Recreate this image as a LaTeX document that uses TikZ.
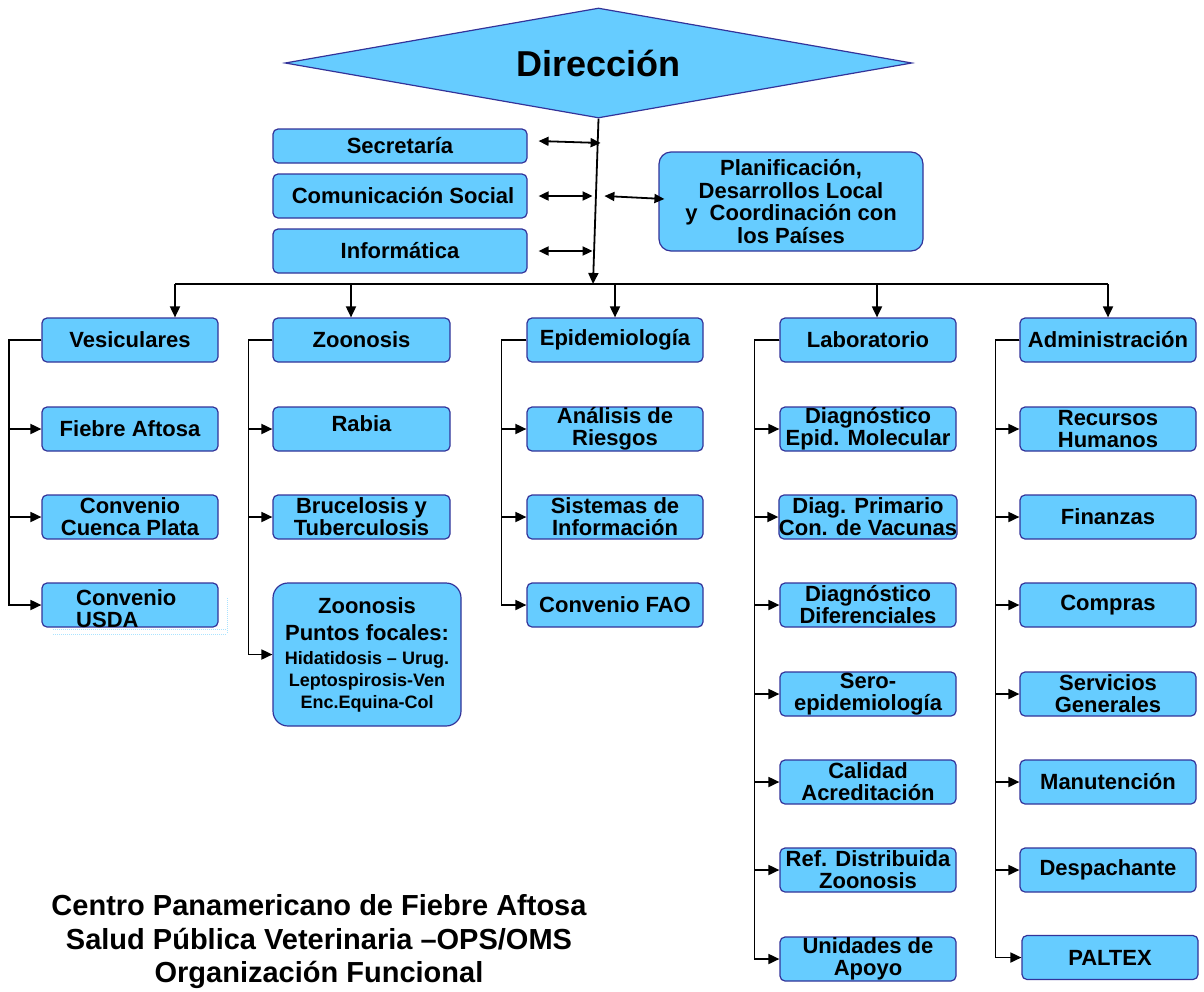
\documentclass[tikz,border=0pt]{standalone}
\usepackage{fontspec}
\setmainfont{Liberation Sans}
\usetikzlibrary{shapes.geometric,arrows.meta}
\definecolor{celeste}{RGB}{102,204,255}
\definecolor{borde}{RGB}{51,51,153}
\newcommand\peq{\fontsize{18}{22}\selectfont}
\tikzset{
	caja/.style={draw=borde,fill=celeste,line width=1.2pt,rounded corners=5pt,minimum width=176pt,minimum height=44pt,inner sep=0pt,align=center,font=\bfseries\fontsize{22}{22}\selectfont},
	flecha/.style={line width=1.8pt,-{Triangle[length=11pt,width=10pt]}},
	doble/.style={line width=1.8pt,{Triangle[length=10pt,width=9pt]}-{Triangle[length=10pt,width=9pt]}}
}
\begin{document}
\begin{tikzpicture}[x=1pt,y=-1pt]
	\useasboundingbox (0,0) rectangle (1204,991);
	\node[diamond,aspect=5.7,draw=borde,fill=celeste,line width=1.2pt,minimum width=627pt,minimum height=110pt,inner sep=0pt,font=\bfseries\fontsize{36}{36}\selectfont] (dir) at (598.5,63) {Dirección};
	% staff
	\node[caja,minimum width=254pt,minimum height=34pt] (sec) at (400,146) {Secretaría};
	\node[caja,minimum width=254pt] (com) at (400,196) {\ Comunicación Social};
	\node[caja,minimum width=254pt] (inf) at (400,251) {Informática};
	\node[caja,minimum width=264pt,minimum height=99pt,rounded corners=12pt,font=\bfseries\fontsize{22}{22.7}\selectfont] (plan) at (791,201.5) {Planificación,\\Desarrollos Local\\y\ \ Coordinación con\\los Países};
	\coordinate (hub) at (593,284);
	\draw[flecha] (dir.south) -- (hub);
	\draw[doble] ([xshift=11pt,yshift=5pt]sec.east) -- ++(62,2);
	\draw[doble] ([xshift=11pt]com.east) -- ++(54,0);
	\draw[doble] ([xshift=11pt]inf.east) -- ++(54,0);
	\draw[doble] ([xshift=-54pt,yshift=5.5pt]plan.west) -- ([xshift=6pt,yshift=2.5pt]plan.west);
	% bus
	\coordinate (b1) at (175,284); \coordinate (b2) at (351,284); \coordinate (b3) at (615,284);
	\coordinate (b4) at (877,284); \coordinate (b5) at (1108,284);
	\draw[line width=1.4pt] (b1) -- (b5);
	% Vesiculares
	\draw[densely dotted,celeste!55,line width=1pt] (227,598) -- (227,633) (53,629) -- (227,629) (53,634) -- (227,634);
	\node[caja] (ves) at (130,340) {Vesiculares};
	\node[caja] (fa) at (130,429) {Fiebre Aftosa};
	\node[caja] (ccp) at (130,517) {Convenio\\Cuenca Plata};
	\node[caja] (usda) at (130,605) {};
	\node[anchor=west,align=left,inner sep=0pt,font=\bfseries\fontsize{22}{22}\selectfont] (usdat) at (76,609) {Convenio\\USDA};
	% Zoonosis
	\node[caja,minimum width=177pt] (zoo) at (361.5,340) {Zoonosis};
	\node[caja,minimum width=177pt] (rab) at (361.5,429) {Rabia\\[-12pt]\mbox{}};
	\node[caja,minimum width=177pt] (bru) at (361.5,517) {Brucelosis y\\Tuberculosis};
	\node[caja,minimum width=188pt,minimum height=143pt,rounded corners=15pt] (zpf) at (367,654.5) {Zoonosis\\[5pt]Puntos focales:\\[2pt]\peq Hidatidosis – Urug.\\\peq Leptospirosis-Ven\\\peq Enc.Equina-Col};
	% Epidemiologia
	\node[caja] (epi) at (615,340) {Epidemiología};
	\node[caja] (ar) at (615,429) {Análisis de\\Riesgos};
	\node[caja] (si) at (615,517) {Sistemas de\\Información};
	\node[caja] (fao) at (615,605) {Convenio FAO};
	% Laboratorio
	\node[caja] (lab) at (868,340) {Laboratorio};
	\node[caja] (dem) at (868,429) {Diagnóstico\\Epid. Molecular};
	\node[caja] (dpv) at (868,517) {Diag. Primario\\Con. de Vacunas};
	\node[caja] (ddi) at (868,605) {Diagnóstico\\Diferenciales};
	\node[caja] (sero) at (868,694) {Sero-\\epidemiología};
	\node[caja] (cal) at (868,782) {Calidad\\Acreditación};
	\node[caja] (ref) at (868,870) {Ref. Distribuida\\Zoonosis};
	\node[caja] (uap) at (868,959) {Unidades de\\Apoyo};
	% Administracion
	\node[caja] (adm) at (1108,340) {Administración};
	\node[caja] (rh) at (1108,429) {Recursos\\Humanos};
	\node[caja] (fin) at (1108,517) {Finanzas};
	\node[caja] (comp) at (1108,605) {Compras};
	\node[caja] (sg) at (1108,694) {Servicios\\Generales};
	\node[caja] (man) at (1108,782) {Manutención};
	\node[caja] (desp) at (1108,870) {Despachante};
	\node[caja] (pal) at (1110,957.5) {PALTEX};
	\foreach \b/\n in {b1/ves,b2/zoo,b3/epi,b4/lab,b5/adm}
	\draw[flecha] (\b) -- (\b |- \n.north);
	\foreach \c in {fa,ccp,usda}
	\draw[flecha] (ves.west) -- ++(-32.5,0) |- (\c.west);
	\foreach \c in {rab,bru,zpf}
	\draw[flecha] (zoo.west) -- ++(-24,0) |- (\c.west);
	\foreach \c in {ar,si,fao}
	\draw[flecha] (epi.west) -- ++(-25,0) |- (\c.west);
	\foreach \c in {dem,dpv,ddi,sero,cal,ref,uap}
	\draw[flecha] (lab.west) -- ++(-25,0) |- (\c.west);
	\foreach \c in {rh,fin,comp,sg,man,desp,pal}
	\draw[flecha] (adm.west) -- ++(-24,0) |- (\c.west);
	\node[align=center,font=\bfseries\fontsize{29}{33.5}\selectfont] (titulo) at (319,942) {Centro Panamericano de Fiebre Aftosa\\Salud Pública Veterinaria –OPS/OMS\\Organización Funcional};
\end{tikzpicture}
\end{document}
